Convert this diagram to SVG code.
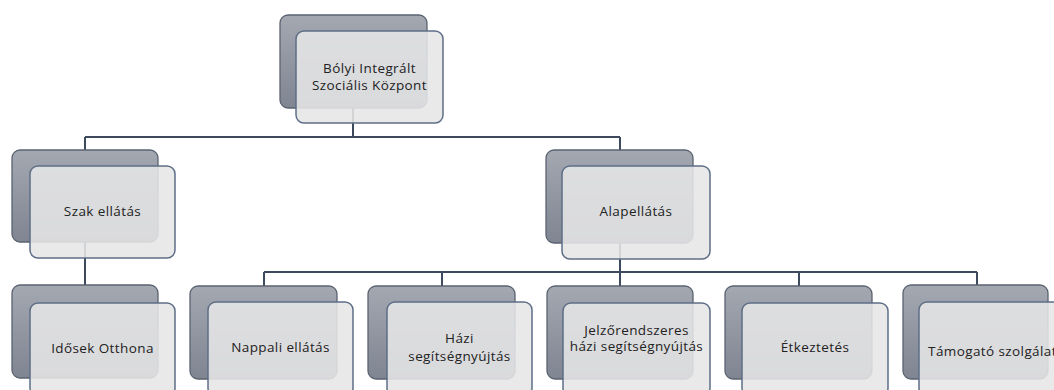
<svg xmlns="http://www.w3.org/2000/svg" width="1054" height="390" viewBox="0 0 1054 390">
<defs>
<linearGradient id="g" x1="0" y1="0" x2="0" y2="1">
<stop offset="0" stop-color="#a3a8b1"/>
<stop offset="1" stop-color="#7f8591"/>
</linearGradient>
<style>
.back{fill:url(#g);stroke:#5b6371;stroke-width:1.3}
.front{fill:#e6e6e6;fill-opacity:0.88;stroke:#5d6e86;stroke-width:1.5}
.c{fill:none;stroke:#3d495c;stroke-width:2}
text{font-family:"Open Sans","Liberation Sans",sans-serif;font-size:13.5px;letter-spacing:0.4px;fill:#222222;text-anchor:middle}
</style>
</defs>
<rect width="1054" height="390" fill="#ffffff"/>
<g id="connectors">
<path class="c" d="M353 108V137M85 137H620M85 137V150M620 137V150"/>
<path class="c" d="M85 242V285"/>
<path class="c" d="M620 243V272M264 272H977M264 272V286M442 272V286M620 272V286M799 272V286M977 272V286"/>
</g>
<g id="n-bolyi">
<rect class="back" x="280" y="15" width="147" height="93" rx="8"/>
<rect class="front" x="296" y="31" width="147" height="92" rx="8"/>
<text x="369.5" y="73">Bólyi Integrált</text>
<text x="369.5" y="90">Szociális Központ</text>
</g>
<g id="n-szak">
<rect class="back" x="12" y="150" width="146" height="92" rx="8"/>
<rect class="front" x="30" y="166" width="145" height="92" rx="8"/>
<text x="102.5" y="216">Szak ellátás</text>
</g>
<g id="n-alap">
<rect class="back" x="546" y="150" width="147" height="93" rx="8"/>
<rect class="front" x="562" y="166" width="148" height="93" rx="8"/>
<text x="636" y="216">Alapellátás</text>
</g>
<g id="n-idosek">
<rect class="back" x="12" y="285" width="146" height="93" rx="8"/>
<rect class="front" x="30" y="303" width="145" height="93" rx="8"/>
<text x="102.5" y="353">Idősek Otthona</text>
</g>
<g id="n-nappali">
<rect class="back" x="190" y="286" width="147" height="93" rx="8"/>
<rect class="front" x="208" y="302" width="145" height="94" rx="8"/>
<text x="280.5" y="352">Nappali ellátás</text>
</g>
<g id="n-hazi">
<rect class="back" x="368" y="286" width="147" height="93" rx="8"/>
<rect class="front" x="387" y="302" width="145" height="94" rx="8"/>
<text x="459.5" y="343">Házi</text>
<text x="459.5" y="361">segítségnyújtás</text>
</g>
<g id="n-jelzo">
<rect class="back" x="547" y="286" width="146" height="93" rx="8"/>
<rect class="front" x="563" y="303" width="147" height="93" rx="8"/>
<text x="636.5" y="335">Jelzőrendszeres</text>
<text x="636.5" y="351">házi segítségnyújtás</text>
</g>
<g id="n-etkeztetes">
<rect class="back" x="725" y="286" width="147" height="93" rx="8"/>
<rect class="front" x="742" y="303" width="146" height="93" rx="8"/>
<text x="815" y="352">Étkeztetés</text>
</g>
<g id="n-tamogato">
<rect class="back" x="903" y="285" width="145" height="94" rx="8"/>
<rect class="front" x="919" y="302" width="147" height="94" rx="8"/>
<text x="992.5" y="356">Támogató szolgálat</text>
</g>
</svg>
